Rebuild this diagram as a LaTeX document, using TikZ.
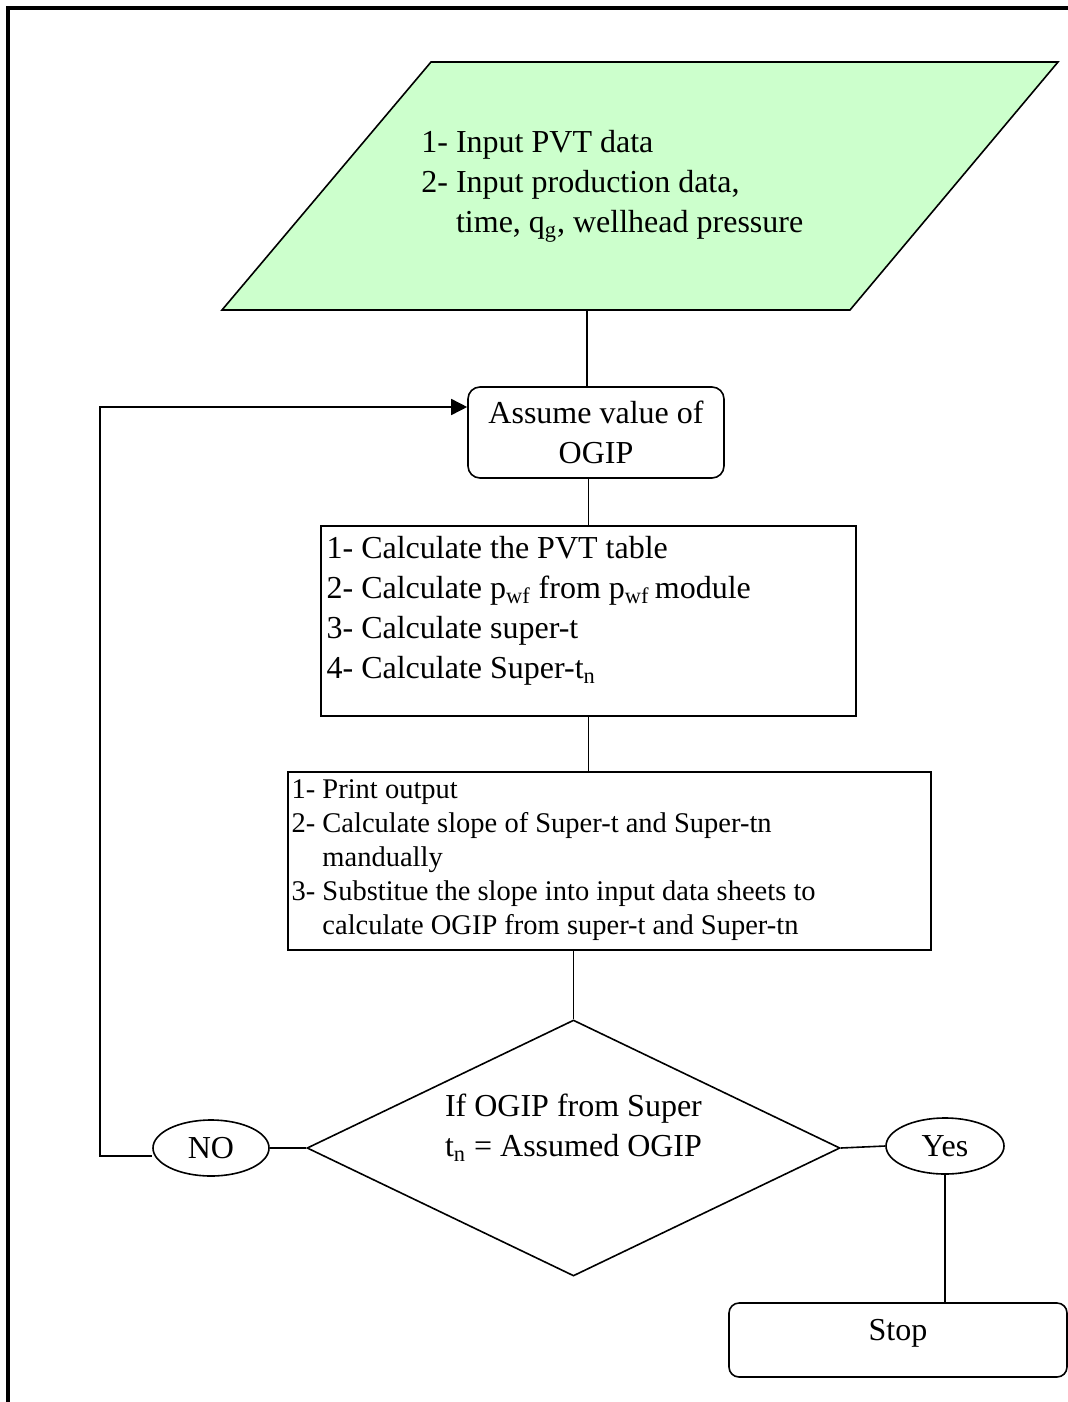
\documentclass[tikz,border=0pt]{standalone}
\usepackage{fontspec}
\setmainfont{Liberation Serif}
\usetikzlibrary{arrows.meta,shapes.geometric}

\definecolor{inputgreen}{HTML}{CCFFCC}

\tikzset{
  flow/.style={line width=0.8pt},
  procbox/.style={draw,line width=0.8pt,rectangle,inner sep=0pt},
  roundbox/.style={procbox,rounded corners=6pt,align=center},
  decision/.style={draw,line width=0.8pt,diamond,inner sep=0pt},
  answer/.style={draw,line width=0.8pt,ellipse,inner sep=0pt},
  steps/.style={anchor=north west,inner sep=0pt,align=left},
}

\begin{document}
\begin{tikzpicture}[x=0.5pt,y=-0.5pt,font=\fontsize{16}{20}\selectfont]
\useasboundingbox (0,0) rectangle (1068,1402);

% page frame
\draw[line width=2pt] (8,1402) -- (8,8) -- (1068,8);

% input data
\coordinate (in-tl) at (431,62);
\coordinate (in-tr) at (1058,62);
\coordinate (in-br) at (850,310);
\coordinate (in-bl) at (222,310);
\coordinate (in-out) at (587,310);
\draw[flow,fill=inputgreen] (in-tl) -- (in-tr) -- (in-br) -- (in-bl) -- cycle;
\node[steps] (input) at (421,130) {1- Input PVT data\\2- Input production data,\\\phantom{2- }time, q\textsubscript{g}, wellhead pressure};

% assumed OGIP
\node[roundbox,minimum width=128pt,minimum height=45.5pt] (assume) at (596,432.5) {Assume value of\\OGIP};

% calculations
\node[procbox,minimum width=267.5pt,minimum height=95pt] (calc) at (588.5,621) {};
\node[steps] (calc-txt) at ([xshift=3pt,yshift=-5.5pt]calc.north west) {1- Calculate the PVT table\\2- Calculate p\textsubscript{wf} from p\textsubscript{wf}\,module\\3- Calculate super-t\\4- Calculate Super-t\textsubscript{n}};

% output
\node[procbox,minimum width=321.5pt,minimum height=89pt] (print) at (609.5,861) {};
\node[steps,font=\fontsize{14.25}{17}\selectfont] (print-txt) at ([xshift=2pt,yshift=-4.25pt]print.north west) {1- Print output\\2- Calculate slope of Super-t and Super-tn\\\phantom{2- }mandually\\3- Substitue the slope into input data sheets to\\\phantom{3- }calculate OGIP from super-t and Super-tn};

% check
\node[decision,minimum width=266.5pt,minimum height=128pt] (test) at (573.5,1148) {};
\node[inner sep=0pt,align=left] (test-txt) at (573.5,1128) {If OGIP from Super\\t\textsubscript{n} = Assumed OGIP};
\node[answer,minimum width=58pt,minimum height=28pt] (no) at (211,1148) {NO};
\node[answer,minimum width=59pt,minimum height=28pt] (yes) at (945,1146) {Yes};
\node[roundbox,rounded corners=5pt,minimum width=169pt,minimum height=37pt,text height=11pt,text depth=11pt] (stop) at (898,1340) {Stop};

% connectors
\coordinate (loop-b) at (100,1156);
\coordinate (loop-t) at (100,407);
\draw[flow] (in-out) -- (in-out |- assume.north);
\draw[flow] (assume.south -| calc.north) -- (calc.north);
\draw[flow] (calc.south) -- (calc.south |- print.north);
\draw[flow] (print.south -| test.north) -- (test.north);
\draw[flow] (test.west) -- (no.east);
\draw[flow] (test.east) -- (yes.west);
\draw[flow] (yes.south) -- (yes.south |- stop.north);
\draw[flow,-{Triangle[length=8pt,width=8pt]}] (loop-b -| no.west) -- (loop-b) -- (loop-t) -- (loop-t -| assume.west);
\end{tikzpicture}
\end{document}
